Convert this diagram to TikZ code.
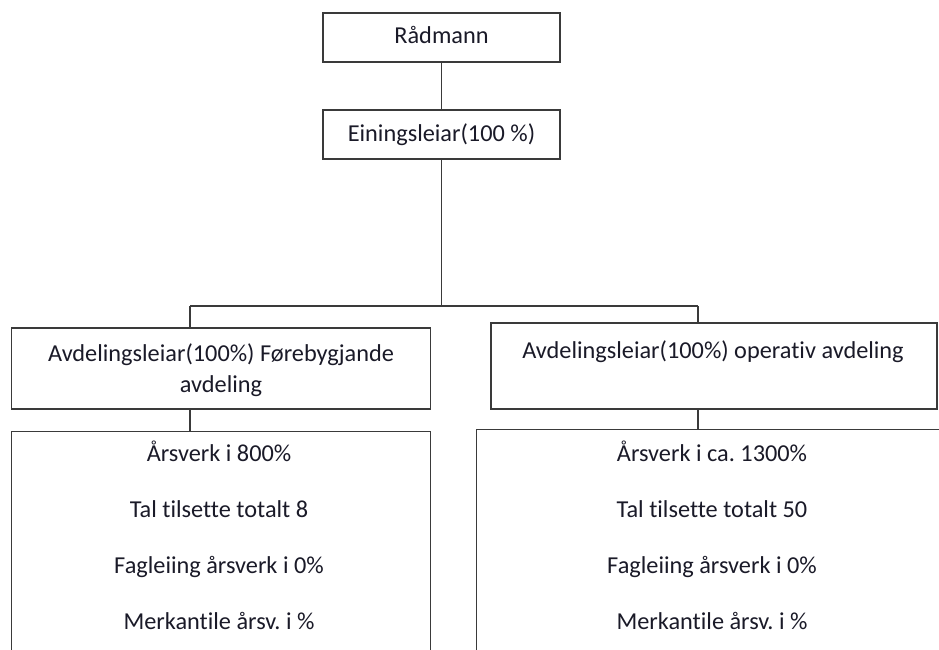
\documentclass[tikz,border=0pt]{standalone}
\usepackage{fontspec}
\setmainfont{Carlito}[Ligatures={NoCommon}]
\frenchspacing
\definecolor{inkline}{HTML}{3A3A3A}
\definecolor{inktext}{HTML}{1A1A28}
\tikzset{
  box/.style={draw=inkline, line width=1.4pt, rectangle, inner sep=0pt, fill=white},
  txt/.style={font=\fontsize{24.3}{31}\selectfont, text=inktext, inner sep=0pt, align=center},
  link/.style={draw=inkline, line width=1.4pt},
}
\begin{document}
\begin{tikzpicture}[x=1pt, y=-1pt]
  \useasboundingbox (0,0) rectangle (939,650);
  \clip (0,0) rectangle (939,650);

  % top of the hierarchy
  \node[box, minimum width=237pt, minimum height=49pt] (rad) at (441.5,37.5) {};
  \node[txt, anchor=base] (radt) at (441.5,43.5) {Rådmann};
  \node[box, minimum width=237pt, minimum height=49pt] (ein) at (441.5,134.5) {};
  \node[txt, anchor=base] (eint) at (441.5,141.5) {Einingsleiar(100 \%)};

  % department leaders
  \node[box, minimum width=419pt, minimum height=81pt] (fore) at (221,368.5) {};
  \node[txt, anchor=base] (foret1) at (221,361) {Avdelingsleiar(100\%) Førebygjande};
  \node[txt, anchor=base] (foret2) at (221,392) {avdeling};
  \node[box, minimum width=446pt, minimum height=86pt] (oper) at (714,366) {};
  \node[txt, anchor=base] (opert) at (713,358) {Avdelingsleiar(100\%) operativ avdeling};

  % staffing boxes (run past the lower edge)
  \node[box, anchor=north, minimum width=419pt, minimum height=260pt] (forest) at (221,431) {};
  \node[box, anchor=north west, minimum width=480pt, minimum height=260pt] (operst) at (476,429) {};

  \node[txt, anchor=base] (f1) at (219,461) {Årsverk i 800\%};
  \node[txt, anchor=base] (f2) at (219,517) {Tal tilsette totalt 8};
  \node[txt, anchor=base] (f3) at (219,573) {Fagleiing årsverk i 0\%};
  \node[txt, anchor=base] (f4) at (219,629) {Merkantile årsv. i \%};

  \node[txt, anchor=base] (o1) at (712,461) {Årsverk i ca. 1300\%};
  \node[txt, anchor=base] (o2) at (712,517) {Tal tilsette totalt 50};
  \node[txt, anchor=base] (o3) at (712,573) {Fagleiing årsverk i 0\%};
  \node[txt, anchor=base] (o4) at (712,629) {Merkantile årsv. i \%};

  % connectors
  \coordinate (jl) at (190,306);
  \coordinate (jr) at (698,306);
  \draw[link] (rad.south) -- (ein.north);
  \draw[link] (ein.south) -- (ein.south |- jl);
  \draw[link] (jl) -- (jr);
  \draw[link] (jl) -- (jl |- fore.north);
  \draw[link] (jr) -- (jr |- oper.north);
  \draw[link] (jl |- fore.south) -- (jl |- forest.north);
  \draw[link] (jr |- oper.south) -- (jr |- operst.north);
\end{tikzpicture}
\end{document}
